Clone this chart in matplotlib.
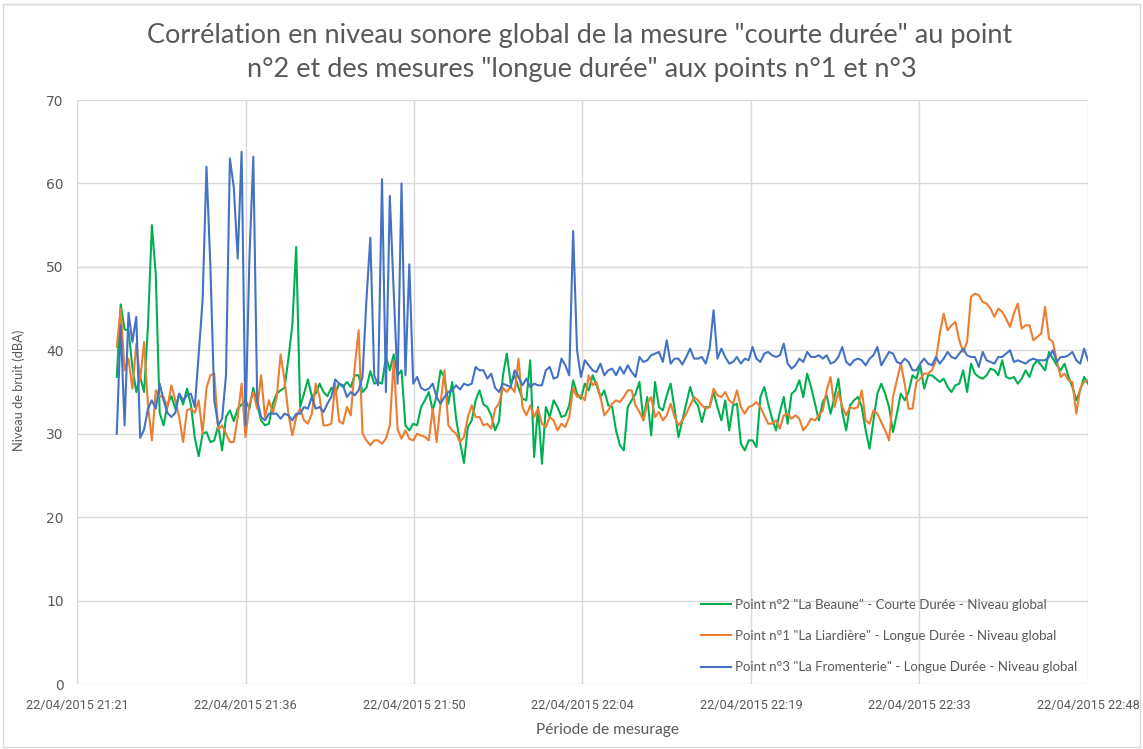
import matplotlib
matplotlib.use('Agg')
import matplotlib.pyplot as plt
import matplotlib.dates as mdates
import matplotlib.patches as mpatches
import pandas as pd

# Sampling: one value every 20 s from 21:25:00 to 22:48:00
times = pd.date_range('2015-04-22 21:25:00', periods=250, freq='20s')

labels = [
    'Point n°2 "La Beaune" - Courte Durée - Niveau global',
    'Point n°1 "La Liardière" - Longue Durée - Niveau global',
    'Point n°3 "La Fromenterie" - Longue Durée - Niveau global',
]

# Point n°2 - courte durée (green)
point2 = [
    36.8, 45.5, 42.5, 42.4, 38, 35, 36.8, 35, 43, 55,
    49, 32.5, 31, 33.5, 34.5, 33, 34.8, 33.5, 35.4, 33.5,
    29.5, 27.3, 30, 30.2, 29, 29.2, 31, 28, 32, 32.8,
    31.5, 33, 33.5, 34, 33, 35.5, 33.5, 31.6, 31, 31.2,
    33.6, 34.8, 35.2, 35.5, 39, 43, 52.4, 33.2, 34.8, 36.5,
    34.5, 34.8, 36, 35, 34.5, 35.5, 34.8, 36, 35.6, 36.2,
    35.6, 37, 37, 35, 35.5, 37.5, 36, 36.2, 36, 39.2,
    37.6, 39.5, 37, 37.6, 31, 30.4, 31.2, 31, 33.2, 34,
    35, 32.8, 34.5, 37.6, 36.8, 33.6, 36.2, 31.8, 29, 26.5,
    30.8, 31.6, 34, 35.2, 33.5, 33.2, 32.2, 30.4, 31.5, 37,
    39.6, 36, 37, 35.5, 34.2, 34, 38.8, 27.2, 33.2, 26.4,
    33.2, 32, 34, 33.2, 32, 32.2, 33.4, 36.4, 34.8, 34.2,
    36, 35.2, 37, 35.8, 34.4, 35.2, 33.4, 33.2, 30.4, 28.6,
    28, 33.2, 34, 34.8, 36.2, 31.6, 34.4, 29.8, 36.2, 33.2,
    32.8, 34.6, 36, 33, 29.6, 31.6, 33.6, 35.6, 34, 33.4,
    31.4, 33.2, 33.2, 35, 33.2, 31.6, 34, 30.4, 33.4, 33.6,
    28.8, 28, 29.2, 29.2, 28.4, 34.4, 35.6, 33.6, 31.8, 30.4,
    32.6, 34.4, 31.2, 34.8, 35.2, 36.4, 34.4, 37.2, 35.6, 33.6,
    31.6, 33.8, 34.6, 32.4, 34.4, 36.6, 32.6, 30.4, 33.4, 34,
    34.4, 33.2, 30.4, 28.2, 31.6, 34.8, 36, 34.8, 33.2, 30.2,
    32.4, 34.8, 34, 35, 37, 36.6, 38.2, 35.4, 37, 37,
    36.6, 36.2, 36.6, 35.6, 35, 35.8, 36, 37.6, 35, 38.4,
    37.2, 36.8, 36.6, 37, 37.8, 37.6, 37, 38.8, 36.8, 36.6,
    36.8, 36, 36.6, 37.6, 36.8, 38.2, 38.8, 38.2, 37.6, 39.8,
    39, 38.2, 37.6, 38.4, 36.8, 35.6, 34, 35.2, 36.8, 36,
]

# Point n°1 - longue durée (orange)
point1 = [
    40.4, 45, 37.6, 39, 35.4, 40.8, 36.4, 41, 33.4, 29.2,
    35.2, 34.5, 34.4, 33.2, 35.8, 34, 32, 29, 32.8, 33,
    32.5, 34, 30, 35.5, 37, 37.2, 30.5, 31, 30, 29,
    29, 32, 36, 29.6, 33.5, 35, 33, 37, 32, 34,
    32.5, 34.4, 39.5, 36.5, 32.4, 29.8, 32, 33, 31.6, 31.2,
    32.4, 36, 34.4, 31, 31, 31.2, 36, 31.5, 31.2, 33.2,
    32.2, 38, 42.4, 30, 29.2, 28.6, 29.2, 29.2, 28.8, 29.4,
    31, 38.8, 30.5, 29.4, 30.4, 29.4, 29.2, 30, 29.8, 29.6,
    29.2, 33, 29, 33.6, 37.6, 31, 30.4, 30, 29, 29.6,
    32, 33.4, 32, 32, 31, 31.2, 30.6, 33, 33.6, 35.5,
    35, 35.6, 35, 39, 33.2, 32.2, 33.4, 32, 33, 31.2,
    30.8, 32, 31.6, 30.4, 31.2, 30.8, 32, 35.5, 34.4, 34.6,
    34, 37, 35.8, 36.2, 34.4, 32.2, 32.8, 33.6, 34, 33.8,
    34.4, 35.2, 35.2, 33.4, 32.6, 31.6, 33.6, 34.4, 32, 32.6,
    31.6, 32.2, 33.6, 32, 31, 31.6, 32.4, 33.4, 34.4, 34,
    33.4, 33, 33.2, 35.4, 34.6, 34.4, 35, 34, 33.6, 35.2,
    33.2, 32.4, 33.2, 33.4, 33.8, 33.2, 32.2, 31.2, 31.2, 31.6,
    30.6, 32.2, 32.4, 31.8, 32.2, 31.8, 30.4, 31, 31.8, 31.6,
    32.2, 32.8, 35.2, 36.8, 33.2, 35, 33.2, 32.2, 33.2, 33,
    33.2, 35.2, 31.6, 31.2, 32.8, 32.4, 31.4, 30.4, 29.2, 34.4,
    36.4, 38.4, 36, 33, 33, 36.2, 36.6, 37.2, 37.2, 37.6,
    38.8, 42, 44.4, 42.4, 43, 43.4, 41.2, 39.8, 41, 46.4,
    46.8, 46.6, 45.8, 45.6, 45, 44, 45, 44.6, 43.8, 42.8,
    44.4, 45.6, 42.6, 43, 43, 41.2, 41.6, 42, 45.2, 41.4,
    41, 38.8, 36.8, 37.2, 36.4, 36.2, 32.4, 35.4, 36.2, 36.4,
]

# Point n°3 - longue durée (blue)
point3 = [
    30, 43, 31, 44.5, 41, 44, 29.5, 30.5, 33, 34,
    33, 36, 34, 32.5, 32, 32.5, 34.8, 34, 34.6, 34.8,
    33.2, 39.5, 46, 62, 50, 34, 31, 31.8, 37, 63,
    59.5, 51, 63.8, 31, 51, 63.2, 34, 32, 31.6, 32.4,
    32.4, 32.4, 31.8, 32.4, 32.2, 31.6, 32.4, 32.4, 33.2, 33,
    34.4, 33, 33.2, 32.6, 33.6, 34.4, 36.5, 36, 35.8, 34.4,
    35, 34.6, 35.2, 36.8, 46, 53.5, 37, 35.8, 60.5, 35,
    58.5, 47, 36, 60, 37, 50.3, 36, 36.8, 35.5, 35.2,
    35.4, 36, 34.4, 33.6, 34.4, 35, 35.2, 35.8, 35.3, 36,
    35.8, 36, 38, 37.6, 37.6, 36.6, 37.2, 35.5, 35, 36,
    35.8, 35.6, 37.6, 36.8, 35.8, 36.6, 35.6, 36, 35.8, 35.8,
    37.6, 38, 36.6, 36.8, 39, 38.2, 37, 54.3, 40, 36.8,
    38.8, 38.2, 37.6, 37.4, 38.4, 37, 37.6, 37.8, 37, 38,
    37.2, 38.2, 37.4, 36.8, 39.2, 38.6, 38.8, 39.4, 39.6, 39.8,
    38.6, 41.2, 38.4, 39, 39, 38.3, 39.2, 40.2, 39, 39,
    39.2, 38.4, 40.2, 44.8, 39, 40.2, 39.2, 38.4, 38.6, 39.2,
    38.4, 39, 38.8, 40.4, 39, 38.6, 39.6, 39.8, 39.4, 39.2,
    39.4, 40.8, 38.4, 37.8, 38.2, 39, 38.6, 39.8, 39.2, 39.2,
    39.4, 39, 39.4, 38.4, 38.6, 39.2, 40.4, 38.6, 38.2, 38.8,
    39, 38.8, 38.2, 39, 39.4, 40.4, 38.2, 39, 39.8, 39.6,
    38.6, 38.4, 39, 38.6, 37.6, 37.6, 38.4, 39, 38.4, 38.2,
    39.2, 38.4, 39, 39.8, 39.2, 39, 39.6, 40.2, 39.4, 39.2,
    39.2, 38, 39.8, 38.8, 38.6, 38.4, 39.2, 39.2, 39.6, 40,
    38.6, 38.8, 38.6, 38.4, 38.8, 39, 38.8, 38.8, 38.8, 39.2,
    40, 38.6, 39.2, 39.2, 39.4, 39.8, 38.8, 38.4, 40.2, 38.8,
]

colors = ['#00B050', '#ED7D31', '#4472C4']
grey = '#595959'
light = ['Lato', 'DejaVu Sans']

fig = plt.figure(figsize=(11.43, 7.49), dpi=100)
ax = fig.add_axes([77 / 1143, 1 - 684 / 749, 1011 / 1143, 584 / 749])

for values, color, label in zip([point2, point1, point3], colors, labels):
    ax.plot(times, values, color=color, lw=1.5, label=label)

# x axis: Excel date axis, major unit 0.01 day (14.4 min)
start = pd.Timestamp('2015-04-22 21:21:36')
ticks = [start + pd.Timedelta(minutes=14.4 * k) for k in range(7)]
ax.set_xlim(ticks[0], ticks[-1])
ax.set_xticks(ticks)
ax.xaxis.set_major_formatter(mdates.DateFormatter('%d/%m/%Y %H:%M'))
ax.set_ylim(0, 70)
ax.set_yticks(range(0, 71, 10))

ax.grid(True, color='#D9D9D9', lw=1)
ax.set_axisbelow(True)
for sp in ax.spines.values():
    sp.set_visible(False)
ax.tick_params(length=0, colors=grey)
ax.tick_params(axis='x', pad=11)
ax.tick_params(axis='y', pad=9.5)
for t in ax.get_xticklabels():
    t.set_family(['Roboto', 'DejaVu Sans'])
    t.set_fontsize(9.2)
for t in ax.get_yticklabels():
    t.set_fontsize(10)

ax.set_ylabel('Niveau de bruit (dBA)', color=grey, fontsize=9.3, family=light)
ax.yaxis.set_label_coords(-0.0514, 0.503)
ax.set_xlabel('Période de mesurage', color=grey, fontsize=11.2, family=light)
ax.xaxis.set_label_coords(0.525, -0.066)

fig.text(0.507, 1 - 36 / 749,
         'Corrélation en niveau sonore global de la mesure "courte durée" au point',
         ha='center', va='center', fontsize=19.5, color=grey, family=light)
fig.text(0.509, 1 - 70 / 749,
         'n°2 et des mesures "longue durée" aux points n°1 et n°3',
         ha='center', va='center', fontsize=19.5, color=grey, family=light)

leg = ax.legend(loc='lower right', bbox_to_anchor=(1.0, 0.0), frameon=False,
                prop={'family': light, 'size': 9.5}, handlelength=2.3,
                handletextpad=0.3, labelspacing=1.47, borderpad=0.3)
for t in leg.get_texts():
    t.set_color(grey)

fig.patches.append(mpatches.Rectangle((0.003, 0.003), 0.994, 0.992,
                                      transform=fig.transFigure, fill=False,
                                      edgecolor='#D9D9D9', lw=1))

fig.savefig('out.png', dpi=100, facecolor='white')
